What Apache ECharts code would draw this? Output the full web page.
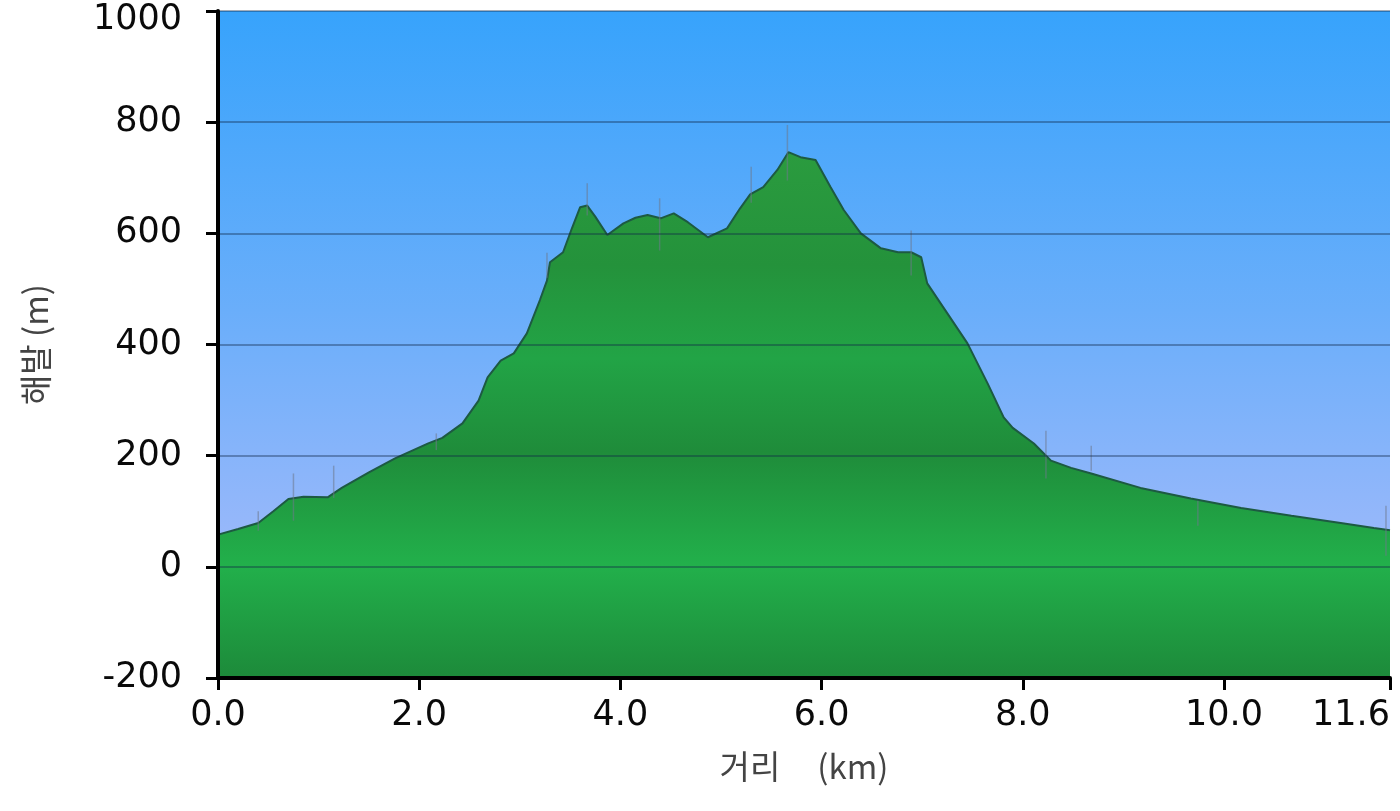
<!DOCTYPE html>
<html>
<head>
<meta charset="utf-8">
<script src="https://cdn.jsdelivr.net/npm/echarts@6/dist/echarts.min.js"></script>
<style>
html,body{margin:0;padding:0;background:#fff;}
#chart{width:1400px;height:811px;}
</style>
</head>
<body>
<div id="chart"></div>
<script>
// Distance along track (km)
const distanceKm = [0.00,0.20,0.40,0.55,0.70,0.85,1.09,1.23,1.50,1.76,2.09,2.23,2.43,2.59,2.68,2.81,2.94,3.07,3.20,3.27,3.30,3.43,3.52,3.60,3.67,3.75,3.87,4.03,4.15,4.27,4.40,4.53,4.67,4.87,5.06,5.19,5.29,5.42,5.56,5.67,5.79,5.94,6.09,6.22,6.39,6.59,6.76,6.89,6.99,7.05,7.25,7.45,7.65,7.81,7.90,8.11,8.28,8.48,8.68,9.17,9.67,10.17,10.67,11.16,11.49,11.65];
// Elevation (m)
const elevationM = [58,68,79,100,122,126,125,142,170,195,222,232,258,299,341,371,384,420,480,515,548,566,610,647,650,630,597,618,628,633,627,636,620,593,609,645,670,683,714,746,737,732,683,642,600,573,566,566,557,510,456,402,330,269,250,222,191,178,168,142,123,106,92,79,70,66];
// GPS noise spikes: position, low, high
const spikeKm  = [0.40,0.75,1.15,2.17,3.27,3.67,4.39,5.30,5.66,6.89,8.23,8.68,9.74,11.61];
const spikeLo  = [65,83,124,210,520,632,569,655,695,524,159,173,74,20];
const spikeHi  = [100,168,182,240,565,690,663,720,795,605,245,218,119,110];

const xTickInterval = 2;
const xMin = 0, xMax = 11.65;
const yMin = -200, yMax = 1000, yInterval = 200;
const xAxisName = '거리     (km)';
const yAxisName = '해발 (m)';

const profile = distanceKm.map((d, i) => [d, elevationM[i]]);
const spikes = spikeKm.map((d, i) => [d, spikeLo[i], spikeHi[i]]);

const chart = echarts.init(document.getElementById('chart'), null, {renderer: 'canvas'});
const tickFont = {fontFamily: 'DejaVu Sans', fontSize: 35, color: '#0a0a0a'};
const nameFont = {fontFamily: '"Noto Sans CJK KR", "DejaVu Sans"', fontSize: 33, color: '#444'};

chart.setOption({
  animation: false,
  grid: {
    left: 218, right: 10, top: 11, bottom: 133,
    containLabel: false, outerBoundsMode: 'none',
    show: true, borderWidth: 0,
    backgroundColor: new echarts.graphic.LinearGradient(0, 0, 0, 1, [
      {offset: 0, color: '#37a3fc'},
      {offset: 0.45, color: '#6aaefa'},
      {offset: 1, color: '#b4befa'}
    ])
  },
  xAxis: {
    type: 'value', min: xMin, max: xMax, interval: xTickInterval, z: 5,
    name: xAxisName, nameLocation: 'middle', nameGap: 72, nameTextStyle: nameFont,
    axisLine: {show: true, onZero: false, lineStyle: {color: '#000', width: 4}},
    axisTick: {show: true, length: 12, lineStyle: {color: '#000', width: 3}},
    axisLabel: Object.assign({margin: 20, showMaxLabel: true, hideOverlap: false,
      alignMaxLabel: 'right',
      formatter: v => (Math.floor(v * 10 + 1e-6) / 10).toFixed(1)}, tickFont),
    splitLine: {show: false}
  },
  yAxis: {
    type: 'value', min: yMin, max: yMax, interval: yInterval, z: 5,
    name: yAxisName, nameLocation: 'middle', nameGap: 166, nameTextStyle: nameFont,
    axisLine: {show: true, lineStyle: {color: '#000', width: 4}},
    axisTick: {show: true, length: 12, lineStyle: {color: '#000', width: 3}},
    axisLabel: Object.assign({margin: 36,
      formatter: v => v === yMax ? '{t|' + v + '}' : String(v),
      rich: {t: Object.assign({padding: [18, 0, 0, 0]}, tickFont)}}, tickFont),
    splitLine: {show: true, lineStyle: {color: 'rgba(15,40,70,0.38)', width: 2}}
  },
  series: [
    {
      type: 'line', data: profile, symbol: 'none', smooth: false, z: 2,
      lineStyle: {color: '#1d5a42', width: 2},
      areaStyle: {
        origin: 'start',
        opacity: 1,
        color: {type: 'linear', x: 0, y: 12, x2: 0, y2: 678, global: true, colorStops: [
          {offset: 0, color: '#30a444'},
          {offset: 0.2, color: '#2b9c3f'},
          {offset: 0.38, color: '#24923b'},
          {offset: 0.52, color: '#22a446'},
          {offset: 0.66, color: '#1f8c3a'},
          {offset: 0.83, color: '#22b04b'},
          {offset: 1, color: '#1d8a3a'}
        ]}
      }
    },
    {
      type: 'custom', data: spikes, z: 3,
      encode: {x: 0, y: [1, 2]},
      renderItem: function (params, api) {
        const a = api.coord([api.value(0), api.value(1)]);
        const b = api.coord([api.value(0), api.value(2)]);
        return {type: 'line', shape: {x1: a[0], y1: a[1], x2: b[0], y2: b[1]},
          style: {stroke: 'rgba(110,120,140,0.55)', lineWidth: 1.5}};
      }
    }
  ]
});
</script>
</body>
</html>
